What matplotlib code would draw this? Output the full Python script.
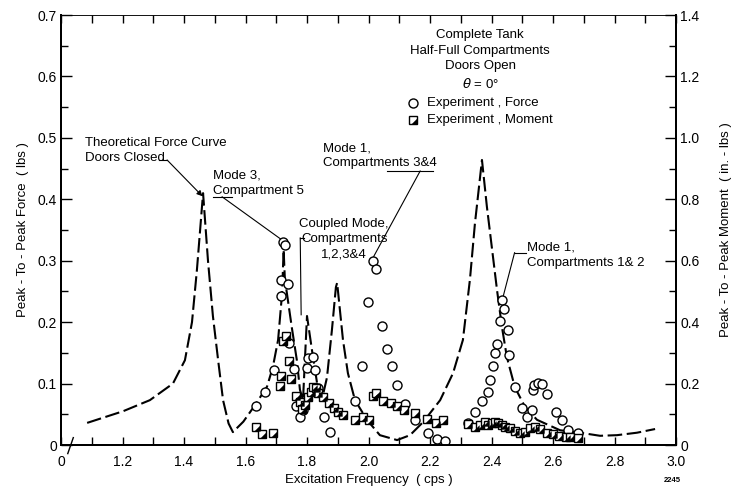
import numpy as np
import matplotlib.pyplot as plt
from matplotlib.ticker import FixedLocator, MultipleLocator

plt.rcParams['font.family'] = ['Liberation Sans', 'DejaVu Sans']
plt.rcParams['font.size'] = 9

# theoretical force curve, doors closed (lbs)
theoryFreq = [1.085, 1.202, 1.289, 1.364, 1.403, 1.426, 1.442, 1.462, 1.478, 1.494,
              1.511, 1.527, 1.545, 1.559, 1.593, 1.631, 1.670, 1.689, 1.706, 1.719,
              1.724, 1.728, 1.751, 1.767, 1.777, 1.787, 1.800, 1.816, 1.833, 1.849,
              1.865, 1.881, 1.894, 1.898, 1.917, 1.933, 1.956, 1.995, 2.037, 2.093,
              2.135, 2.177, 2.233, 2.275, 2.307, 2.330, 2.346, 2.369, 2.385, 2.402,
              2.418, 2.434, 2.450, 2.476, 2.509, 2.548, 2.623, 2.688, 2.753, 2.808,
              2.873, 2.932]
theoryForce = [0.036, 0.055, 0.073, 0.100, 0.138, 0.200, 0.285, 0.410, 0.300, 0.210,
               0.138, 0.073, 0.035, 0.021, 0.038, 0.065, 0.095, 0.127, 0.171, 0.247,
               0.318, 0.270, 0.190, 0.138, 0.090, 0.073, 0.210, 0.155, 0.100, 0.075,
               0.110, 0.187, 0.257, 0.264, 0.171, 0.117, 0.073, 0.041, 0.016, 0.008,
               0.016, 0.037, 0.073, 0.117, 0.171, 0.270, 0.360, 0.464, 0.388, 0.318,
               0.252, 0.192, 0.143, 0.094, 0.062, 0.041, 0.024, 0.020, 0.015, 0.016,
               0.020, 0.026]

# experiment, force (lbs)
forceFreq = [1.633, 1.663, 1.693, 1.714, 1.714, 1.722, 1.729, 1.737, 1.741, 1.758,
             1.764, 1.777, 1.787, 1.801, 1.804, 1.818, 1.826, 1.836, 1.855, 1.875,
             1.956, 1.980, 1.999, 2.014, 2.024, 2.043, 2.059, 2.077, 2.094, 2.119,
             2.151, 2.193, 2.222, 2.249, 2.324, 2.346, 2.368, 2.390, 2.395, 2.406,
             2.411, 2.419, 2.428, 2.435, 2.441, 2.455, 2.458, 2.476, 2.498, 2.516,
             2.531, 2.536, 2.538, 2.552, 2.563, 2.579, 2.610, 2.628, 2.650, 2.682]
forceVal = [0.064, 0.086, 0.122, 0.269, 0.243, 0.331, 0.325, 0.262, 0.166, 0.124,
            0.064, 0.046, 0.057, 0.125, 0.141, 0.144, 0.122, 0.093, 0.046, 0.021,
            0.071, 0.128, 0.233, 0.300, 0.287, 0.193, 0.156, 0.128, 0.097, 0.067,
            0.041, 0.020, 0.009, 0.007, 0.036, 0.053, 0.071, 0.087, 0.106, 0.128,
            0.149, 0.164, 0.202, 0.236, 0.221, 0.187, 0.147, 0.095, 0.060, 0.046,
            0.057, 0.090, 0.098, 0.101, 0.100, 0.083, 0.053, 0.040, 0.024, 0.019]

# experiment, moment (in.-lbs)
momentFreq = [1.634, 1.654, 1.688, 1.712, 1.714, 1.723, 1.732, 1.741, 1.748, 1.765,
              1.777, 1.783, 1.792, 1.804, 1.812, 1.821, 1.829, 1.837, 1.853, 1.873,
              1.888, 1.902, 1.918, 1.956, 1.983, 2.003, 2.014, 2.024, 2.046, 2.072,
              2.094, 2.115, 2.151, 2.191, 2.220, 2.243, 2.325, 2.346, 2.363, 2.379,
              2.390, 2.401, 2.411, 2.422, 2.433, 2.444, 2.460, 2.476, 2.493, 2.509,
              2.525, 2.541, 2.558, 2.579, 2.601, 2.620, 2.642, 2.655, 2.682]
momentVal = [0.058, 0.035, 0.038, 0.192, 0.225, 0.340, 0.355, 0.274, 0.214, 0.160,
             0.141, 0.116, 0.130, 0.157, 0.174, 0.190, 0.185, 0.168, 0.157, 0.136,
             0.119, 0.108, 0.098, 0.081, 0.092, 0.081, 0.160, 0.170, 0.144, 0.138,
             0.127, 0.114, 0.105, 0.084, 0.073, 0.081, 0.068, 0.060, 0.065, 0.076,
             0.065, 0.073, 0.076, 0.071, 0.065, 0.060, 0.054, 0.047, 0.038, 0.043,
             0.054, 0.060, 0.051, 0.038, 0.036, 0.029, 0.027, 0.025, 0.022]

xTicks = [1.0, 1.2, 1.4, 1.6, 1.8, 2.0, 2.2, 2.4, 2.6, 2.8, 3.0]
xTickLabels = ['0', '1.2', '1.4', '1.6', '1.8', '2.0', '2.2', '2.4', '2.6', '2.8', '3.0']
forceTicks = [0, 0.1, 0.2, 0.3, 0.4, 0.5, 0.6, 0.7]
forceTickLabels = ['0', '0.1', '0.2', '0.3', '0.4', '0.5', '0.6', '0.7']
momentTicks = [0, 0.2, 0.4, 0.6, 0.8, 1.0, 1.2, 1.4]
momentTickLabels = ['0', '0.2', '0.4', '0.6', '0.8', '1.0', '1.2', '1.4']

# square with dark lower-right half
halfSquare = [(-0.55, -1), (1, -1), (1, 0.55), (-0.55, -1)]

fig = plt.figure(figsize=(7.33, 4.90), dpi=100)
ax = fig.add_axes([61 / 733, 1 - 445 / 490, 615 / 733, 430 / 490])
ax2 = ax.twinx()

ax.plot(theoryFreq, theoryForce, color='black', lw=1.5, linestyle=(0, (7, 2.2)),
        dash_capstyle='butt')
ax.plot(forceFreq, forceVal, linestyle='none', marker='o', ms=6.5, mfc='white',
        mec='black', mew=1.0, zorder=3)
ax2.plot(momentFreq, momentVal, linestyle='none', marker='s', ms=6, mfc='white',
         mec='black', mew=1.0, zorder=3)
ax2.plot(momentFreq, momentVal, linestyle='none', marker=halfSquare, ms=6, mfc='black',
         mec='black', mew=0, zorder=4)

ax.set_xlim(1.0, 3.0)
ax.set_ylim(0, 0.7)
ax2.set_ylim(0, 1.4)

ax.xaxis.set_major_locator(FixedLocator(xTicks))
ax.set_xticklabels(xTickLabels)
ax.xaxis.set_minor_locator(MultipleLocator(0.1))
ax.yaxis.set_major_locator(FixedLocator(forceTicks))
ax.set_yticklabels(forceTickLabels)
ax.yaxis.set_minor_locator(MultipleLocator(0.05))
ax2.yaxis.set_major_locator(FixedLocator(momentTicks))
ax2.set_yticklabels(momentTickLabels)
ax2.yaxis.set_minor_locator(MultipleLocator(0.1))

ax.tick_params(axis='x', which='both', direction='in', length=6, width=1, top=True,
               labelsize=10, pad=7)
ax.tick_params(axis='y', which='major', direction='in', length=8, width=1, labelsize=10,
               pad=3)
ax.tick_params(axis='y', which='minor', direction='in', length=5, width=1)
ax2.tick_params(axis='y', which='major', direction='in', length=8, width=1, labelsize=10,
                pad=3)
ax2.tick_params(axis='y', which='minor', direction='in', length=5, width=1)

for a in (ax, ax2):
    for side in ('left', 'bottom', 'right'):
        a.spines[side].set_linewidth(1.4)
    a.spines['top'].set_linewidth(0.5)

ax.set_xlabel('Excitation Frequency  ( cps )', fontsize=9.5, labelpad=4)
ax.set_ylabel('Peak - To - Peak Force  ( lbs )', fontsize=9.5, labelpad=6)
ax2.set_ylabel('Peak - To - Peak Moment  ( in. - lbs )', fontsize=9.5, labelpad=15)

# axis break mark near the origin
ax.plot([1.022, 1.040], [-0.014, 0.012], color='black', lw=1.0, clip_on=False)

# header and key
ax.text(2.363, 0.677, 'Complete Tank\nHalf-Full Compartments\nDoors Open\n$\\theta$ = 0°',
        ha='center', va='top', fontsize=9.5, linespacing=1.4)
ax.plot([2.145], [0.557], marker='o', ms=6.5, mfc='white', mec='black', mew=1.0,
        clip_on=False)
ax2.plot([2.145], [1.058], marker='s', ms=6, mfc='white', mec='black', mew=1.0)
ax2.plot([2.145], [1.058], marker=halfSquare, ms=6, mfc='black', mec='black', mew=0)
ax.text(2.19, 0.557, 'Experiment , Force', va='center', fontsize=9.5)
ax.text(2.19, 0.529, 'Experiment , Moment', va='center', fontsize=9.5)

# callouts
leader = dict(color='black', lw=0.8)
ax.text(1.078, 0.479, 'Theoretical Force Curve\nDoors Closed', va='center', fontsize=9.5,
        linespacing=1.35)
ax.plot([1.318, 1.345], [0.464, 0.464], **leader)
ax.annotate('', xy=(1.460, 0.405), xytext=(1.345, 0.464),
            arrowprops=dict(arrowstyle='-|>', color='black', lw=0.8, mutation_scale=8,
                            shrinkA=0, shrinkB=0))

ax.text(1.494, 0.426, 'Mode 3,\nCompartment 5', va='center', fontsize=9.5, linespacing=1.35)
ax.plot([1.494, 1.555], [0.404, 0.404], **leader)
ax.plot([1.524, 1.718], [0.404, 0.334], **leader)

ax.text(1.921, 0.335, 'Coupled Mode,\nCompartments\n1,2,3&4', ha='center', va='center',
        fontsize=9.5, linespacing=1.35)
ax.plot([1.778, 1.790], [0.337, 0.337], **leader)
ax.plot([1.778, 1.781], [0.337, 0.212], **leader)

ax.text(1.852, 0.471, 'Mode 1,\nCompartments 3&4', va='center', fontsize=9.5,
        linespacing=1.35)
ax.plot([2.060, 2.211], [0.446, 0.446], **leader)
ax.plot([2.168, 2.017], [0.446, 0.307], **leader)

ax.text(2.515, 0.309, 'Mode 1,\nCompartments 1& 2', va='center', fontsize=9.5,
        linespacing=1.35)
ax.plot([2.475, 2.512], [0.313, 0.313], **leader)
ax.plot([2.475, 2.437], [0.313, 0.240], **leader)

fig.text(672 / 733, 1 - 480 / 490, '2245', fontsize=5.5, fontweight='bold', ha='center',
         va='center')

fig.savefig('out.png', dpi=100)
